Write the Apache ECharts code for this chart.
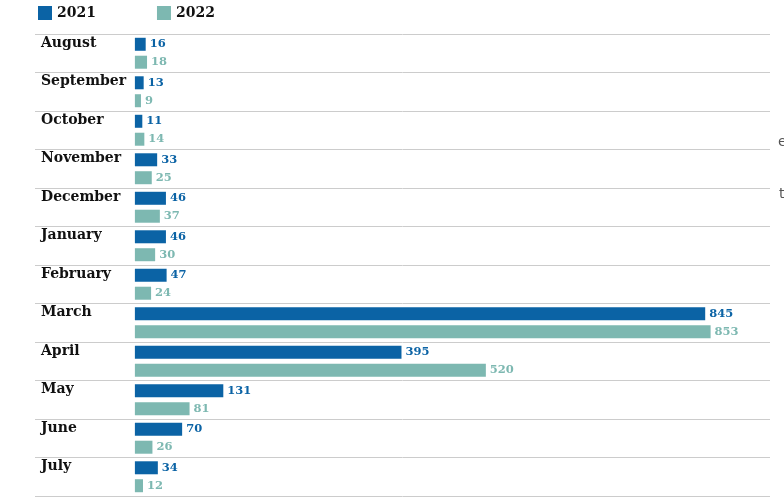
<!DOCTYPE html>
<html>
<head>
<meta charset="utf-8">
<script src="https://cdn.jsdelivr.net/npm/echarts@6/dist/echarts.min.js"></script>
<style>html,body{margin:0;padding:0;background:#fff;}#c{width:784px;height:503px;}</style>
</head>
<body>
<div id="c"></div>
<script>
var months = ['August','September','October','November','December','January','February','March','April','May','June','July'];
var values2021 = [16,13,11,33,46,46,47,845,395,131,70,34];
var values2022 = [18,9,14,25,37,30,24,853,520,81,26,12];
var seriesNames = ['2021','2022'];
var colors = ['#0b63a5','#7db8b1'];
var serif = 'Georgia, "DejaVu Serif", serif';

var chart = echarts.init(document.getElementById('c'));
function labelFor(color){
  return {show:true, position:'right', distance:4, color:color, fontFamily:serif, fontWeight:'bold', fontSize:11.5};
}
chart.setOption({
  animation:false,
  legend:{left:38, top:6, padding:0, itemWidth:14, itemHeight:14, itemGap:61, icon:'rect',
    textStyle:{fontFamily:serif, fontWeight:'bold', fontSize:14, color:'#111'},
    data:seriesNames},
  grid:{left:35, right:14, top:34, bottom:7, containLabel:false},
  xAxis:{type:'value', min:-148, max:941, show:false, splitLine:{show:false}},
  yAxis:{type:'category', data:months, inverse:true,
    axisLine:{show:false}, axisTick:{show:false},
    splitLine:{show:true, lineStyle:{color:'#cccccc', width:1}},
    axisLabel:{inside:true, margin:6, verticalAlign:'bottom', padding:[0,0,3,0], color:'#111',
      fontFamily:serif, fontWeight:'bold', fontSize:14}},
  series:[
    {name:seriesNames[0], type:'bar', data:values2021, barWidth:13, barGap:'38%', itemStyle:{color:colors[0]}, label:labelFor(colors[0])},
    {name:seriesNames[1], type:'bar', data:values2022, barWidth:13, itemStyle:{color:colors[1]}, label:labelFor(colors[1])}
  ],
  graphic:[
    {type:'text', left:778, top:135, style:{text:'e', fontFamily:'"DejaVu Sans", sans-serif', fontSize:14, fill:'#555'}},
    {type:'text', left:779, top:187, style:{text:'t', fontFamily:'"DejaVu Sans", sans-serif', fontSize:14, fill:'#555'}}
  ]
});
</script>
</body>
</html>
